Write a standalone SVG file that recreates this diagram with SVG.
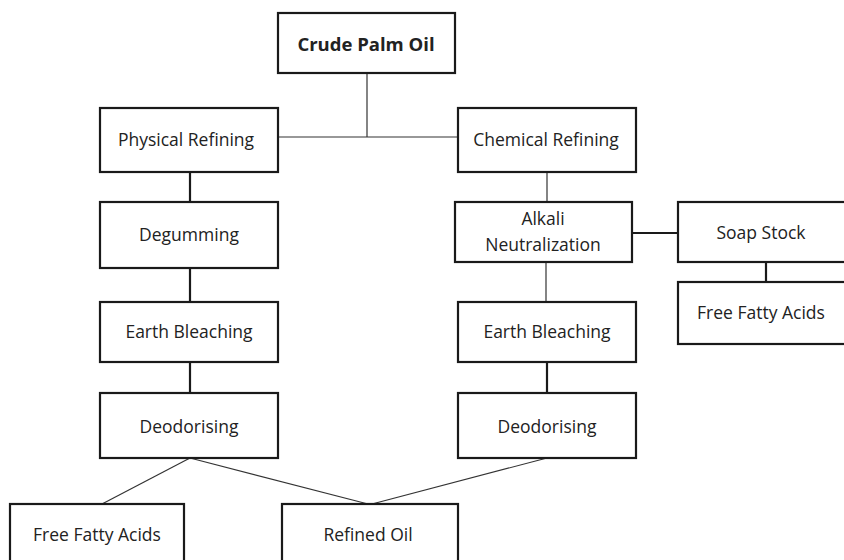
<svg xmlns="http://www.w3.org/2000/svg" width="844" height="560" viewBox="0 0 844 560">
<style>
.box{fill:#fff;stroke:#1a1a1a;stroke-width:2.2}
.t{font-family:"Open Sans","Noto Sans",sans-serif;font-size:17.5px;fill:#222;text-anchor:middle;dominant-baseline:central}
.b{font-weight:bold;font-size:18.5px}
.thin{stroke:#333;stroke-width:1.2;fill:none}
.thick{stroke:#1a1a1a;stroke-width:2.2;fill:none}
</style>
<rect width="844" height="560" fill="#fff"/>
<g id="connectors">
<line class="thin" x1="367" y1="73" x2="367" y2="137"/>
<line class="thin" x1="278" y1="137" x2="458" y2="137"/>
<line class="thick" x1="190" y1="172" x2="190" y2="202"/>
<line class="thin" x1="547" y1="172" x2="547" y2="202"/>
<line class="thick" x1="632" y1="233" x2="678" y2="233"/>
<line class="thick" x1="766" y1="262" x2="766" y2="282"/>
<line class="thick" x1="190" y1="268" x2="190" y2="302"/>
<line class="thin" x1="546" y1="262" x2="546" y2="302"/>
<line class="thick" x1="190" y1="362" x2="190" y2="393"/>
<line class="thick" x1="547" y1="362" x2="547" y2="393"/>
<line class="thin" x1="190" y1="458" x2="102" y2="504"/>
<line class="thin" x1="190" y1="458" x2="368" y2="504"/>
<line class="thin" x1="547" y1="458" x2="372" y2="504"/>
</g>
<g id="crude"><rect class="box" x="278" y="13" width="177" height="60"/><text class="t b" x="366" y="43">Crude Palm Oil</text></g>
<g id="physical"><rect class="box" x="100" y="108" width="178" height="64"/><text class="t" x="186" y="139">Physical Refining</text></g>
<g id="chemical"><rect class="box" x="458" y="108" width="178" height="64"/><text class="t" x="546" y="139">Chemical Refining</text></g>
<g id="degumming"><rect class="box" x="100" y="202" width="178" height="66"/><text class="t" x="189" y="234">Degumming</text></g>
<g id="alkali"><rect class="box" x="455" y="202" width="177" height="60"/><text class="t" x="543" y="218">Alkali</text><text class="t" x="543" y="244">Neutralization</text></g>
<g id="soap"><rect class="box" x="678" y="202" width="175" height="60"/><text class="t" x="761" y="232">Soap Stock</text></g>
<g id="ffa-right"><rect class="box" x="678" y="282" width="175" height="62"/><text class="t" x="761" y="312">Free Fatty Acids</text></g>
<g id="earth-left"><rect class="box" x="100" y="302" width="178" height="60"/><text class="t" x="189" y="331">Earth Bleaching</text></g>
<g id="earth-right"><rect class="box" x="458" y="302" width="178" height="60"/><text class="t" x="547" y="331">Earth Bleaching</text></g>
<g id="deo-left"><rect class="box" x="100" y="393" width="178" height="65"/><text class="t" x="189" y="426">Deodorising</text></g>
<g id="deo-right"><rect class="box" x="458" y="393" width="178" height="65"/><text class="t" x="547" y="426">Deodorising</text></g>
<g id="ffa-bottom"><rect class="box" x="10" y="504" width="174" height="66"/><text class="t" x="97" y="534">Free Fatty Acids</text></g>
<g id="refined"><rect class="box" x="282" y="504" width="176" height="66"/><text class="t" x="368" y="534">Refined Oil</text></g>
</svg>
